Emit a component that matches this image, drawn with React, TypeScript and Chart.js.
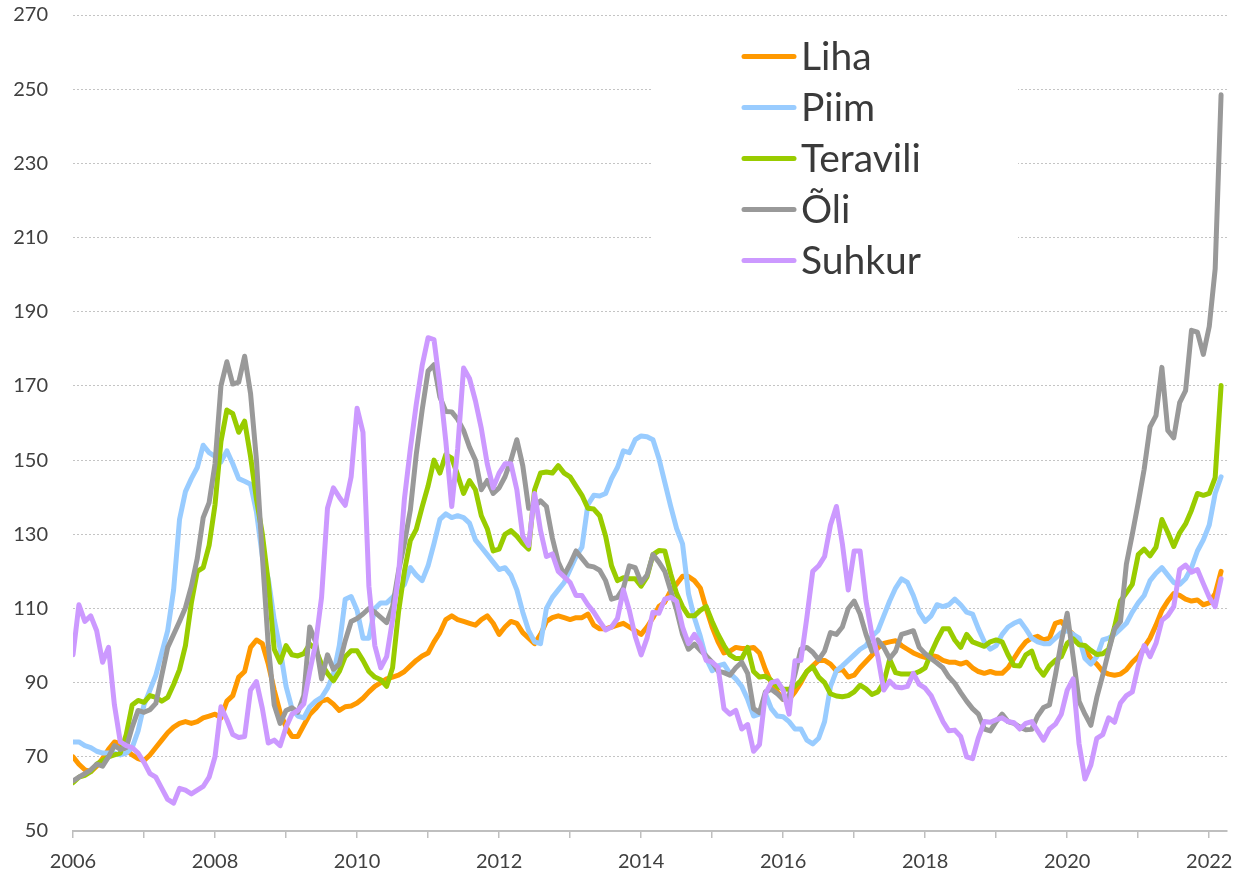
import React, { useEffect, useRef } from "react";
import { Chart, registerables } from "chart.js";

Chart.register(...registerables);

// Monthly values, Jan 2006 .. Mar 2022
const START_YEAR = 2006;

const LIHA = [
  70, 68, 66.5, 66, 67.5, 69.5, 72, 74, 73.5, 72, 70.5, 69.5,
  69, 70.5, 72.5, 74.5, 76.5, 78, 79, 79.5, 79, 79.5, 80.5, 81,
  81.5, 80.5, 85, 86.5, 91.5, 93, 99.5, 101.5, 100.5, 95, 88, 82,
  78, 75.5, 75.5, 78.5, 81.4, 83, 85, 85.5, 84.2, 82.5, 83.5, 83.7,
  84.5, 85.8, 87.5, 89, 90, 91, 91.5, 92, 93, 94.5, 96, 97.2,
  98, 101, 103.5, 107, 108, 107, 106.5, 106, 105.5, 107, 108, 106,
  103, 105, 106.5, 106, 103.5, 102, 100.5, 103, 106.5, 107.5, 108, 107.5,
  107, 107.5, 107.5, 108.5, 105.5, 104.5, 104.5, 105, 105.5, 106, 105, 104,
  103, 105, 107.5, 110.5, 111.7, 114.8, 116.6, 118.7, 118.6, 117.5, 115.5, 110,
  105, 101, 98, 98.5, 99.5, 99.2, 99.2, 99.5, 98, 93.5, 90, 87.5,
  85.5, 85.5, 87.5, 90, 93, 94.5, 96, 96, 95, 93.2, 93.6, 91.5,
  92, 94, 95.7, 97.4, 99.3, 100.6, 101, 101.3, 100, 99, 98, 97.3,
  96.8, 97.3, 97, 96, 95.5, 95.5, 95, 95.5, 94, 93, 92.5, 93,
  92.5, 92.5, 94, 96.5, 99, 101, 102, 102.5, 101.5, 102, 106, 106.5,
  104.5, 103, 101, 99, 96.5, 95, 93, 92.3, 92, 92.3, 93.5, 95.5,
  97, 99.5, 102, 105.5, 109.5, 112, 114, 113.5, 112.5, 112, 112.3, 111,
  111.5, 114, 120,
];

const PIIM = [
  74, 74, 73, 72.5, 71.5, 71, 71, 71, 70.5, 71, 72.5, 77,
  84, 88, 92, 98, 104, 115, 134, 141.5, 145, 148, 154, 152,
  151, 149.5, 152.5, 149, 145, 144.3, 143.5, 136, 124, 118, 107, 99,
  89, 83, 81, 80.5, 83.5, 85, 86, 88.5, 92.2, 100, 112.5, 113.2,
  109.5, 102, 102, 110, 111.5, 111.5, 113, 115, 116.5, 121, 119, 117.5,
  121.5, 127.5, 134, 135.5, 134.5, 135, 134.5, 133, 128.5, 126.5, 124.5, 122.5,
  120.5, 121, 119, 115, 109, 104, 101, 100.5, 110, 113, 115, 117,
  120.5, 124, 126.5, 138, 140.5, 140.3, 141, 145, 148, 152.5, 152, 155.5,
  156.5, 156.3, 155.5, 150.5, 144, 137.5, 131.5, 127.4, 114, 107.5, 102.5, 96.5,
  93.2, 94.5, 95, 92.5, 91, 89, 85.5, 81, 81.5, 87, 83, 81,
  80.8, 79.5, 77.5, 77.5, 74.5, 73.5, 75, 79.5, 89, 93.2, 94.5, 96,
  97.5, 99, 100, 102.5, 104, 108, 112, 115.5, 118, 117, 113.5, 109,
  106.5, 108, 111, 110.5, 111, 112.5, 111, 109, 108.5, 104.5, 101, 99,
  100, 103, 105, 106, 106.7, 104.5, 102, 101, 100.5, 100.5, 102, 103.5,
  104, 103, 102, 96.5, 95, 97, 101.5, 102, 103, 104.5, 106, 109,
  111.5, 113.5, 117.5, 119.5, 121, 119, 117, 116.5, 118, 121, 125.5, 128.5,
  132.5, 141, 145.5,
];

const TERAVILI = [
  63, 64.5, 65, 66, 68, 69, 70, 70.5, 71, 76, 84, 85.2,
  84.7, 86.5, 86, 85, 86, 89.5, 93.5, 100, 111.5, 120, 121, 127,
  138, 155, 163.5, 162.5, 157.5, 160.5, 151, 139.5, 130, 117, 99, 95.5,
  100, 97.5, 97.2, 97.8, 100.4, 99, 95, 92.5, 90.5, 93, 97, 98.6,
  98.6, 96, 93, 91.5, 90.8, 89, 94, 109, 120, 128.3, 131.3, 137.4,
  143, 150, 146.5, 151.5, 150.5, 146, 141, 144.5, 142, 135, 131.5, 125.5,
  126, 130, 131, 129.5, 127.5, 126, 142, 146.5, 146.8, 146.5, 148.5, 146.5,
  145.5, 143, 140.5, 137, 136.8, 135, 129.5, 121.5, 117.5, 118.3, 118, 118,
  116, 118.5, 124.5, 125.6, 125.5, 119.3, 114, 110.5, 108, 108, 109.5, 110.5,
  106.5, 103, 100, 97.5, 96.5, 96.5, 99.5, 93, 91.5, 91.7, 90.6, 89,
  88.3, 88.2, 89, 90.6, 93, 94.3, 91.5, 90, 87, 86.4, 86.2, 86.5,
  87.5, 89.3, 88.3, 86.8, 87.5, 90, 96.3, 92.7, 92.3, 92.3, 92.3, 93,
  94, 98, 101.5, 104.5, 104.5, 101.5, 99.5, 103, 101, 100.4, 99.8, 101,
  101.5, 101, 97.5, 94.6, 94.5, 97.5, 98.5, 94, 92, 94.5, 96, 97,
  100.6, 101.8, 100.2, 100, 98.7, 97.6, 97.8, 99, 105, 112, 114.2, 116.5,
  124.5, 126, 124.2, 126.5, 134, 130.5, 126.7, 130.4, 132.8, 136.5, 141, 140.5,
  141, 145.3, 170.1,
];

const OLI = [
  63.5, 64.5, 65.5, 66.5, 68, 67.5, 70, 73, 72, 72.5, 78, 82.5,
  82, 82.7, 84.4, 92, 99.5, 103, 106.5, 110.2, 116, 123.5, 134.5, 138.5,
  149, 170, 176.5, 170.5, 171, 178, 168, 150, 124, 100, 84, 79,
  82.5, 83.2, 82, 86.5, 105, 101, 91, 97.5, 93.6, 95, 101.3, 106.5,
  107.3, 108.5, 110, 109, 107.6, 106.2, 110.5, 120, 127.5, 136.5, 151.5, 163.5,
  174, 175.7, 167, 163.1, 163, 161, 158, 153.5, 150, 142, 144.5, 141,
  142.5, 145.5, 150, 155.5, 148.5, 137, 137.5, 139, 137.5, 129, 122.5, 119,
  122, 125.5, 123.5, 121.5, 121.2, 120.3, 117.5, 112.5, 113, 115.5, 121.5, 121,
  117, 119, 124.5, 122.5, 120, 114.8, 109.5, 103, 99, 100.4, 98.7, 97.2,
  95.5, 93.1, 92.7, 92, 94, 95.5, 92.5, 83, 81.9, 87.5, 88.2, 87,
  85.5, 86.5, 92.3, 99, 99.5, 98.2, 96.2, 98.5, 103.5, 103, 105, 110,
  112, 108.5, 103, 98.5, 101.5, 99.5, 96.5, 98.5, 103, 103.5, 104, 99.5,
  97.8, 96.5, 95.3, 94, 91.5, 89.8, 87.3, 85, 83, 81.5, 77.5, 77,
  79.5, 81.5, 79.5, 79, 78, 77.3, 77.4, 81, 83.3, 84, 92, 101,
  108.7, 97, 85, 81.5, 78.5, 86, 92, 98.5, 104.5, 106.5, 122, 130,
  138.5, 147.5, 159, 162, 175, 158, 156, 165.5, 168.7, 185, 184.5, 178.5,
  186, 201.5, 248.5,
];

const SUHKUR = [
  97.5, 111, 106.5, 108, 104, 95.5, 99.5, 84, 74, 73, 72.5, 71,
  68.5, 65.5, 64.5, 61.5, 58.5, 57.5, 61.5, 61, 60, 61, 62, 64.5,
  70, 83.5, 80, 76, 75.2, 75.5, 88, 90.3, 83, 73.7, 74.5, 73,
  78, 81.5, 82.5, 84.3, 93, 100.5, 113, 137, 142.5, 140, 137.8, 145.5,
  164, 157.5, 116, 100, 94, 97, 107, 119, 139.5, 153, 165, 175.5,
  183, 182.5, 170, 155, 137.5, 153, 174.8, 172, 166, 158.5, 149, 142.5,
  146.5, 149, 149, 142, 129.5, 127, 141, 131, 124, 124.7, 120, 118.5,
  117, 113.5, 113.5, 111, 109, 106.5, 104.2, 105, 107.3, 115, 109.5, 102.5,
  97.5, 102, 109, 108.7, 112.5, 113, 112, 105, 100.5, 103, 100.5, 96,
  95.5, 94.1, 83, 81.5, 82.5, 77.5, 78.7, 71.5, 73.3, 87, 90, 90.5,
  88, 81.5, 95.9, 96, 107.5, 120, 121.5, 124, 132.5, 137.5, 127.5, 115,
  125.5, 125.5, 112, 103, 97, 88, 90.4, 88.8, 88.6, 89, 92.5, 89.5,
  88.5, 86.5, 83, 79.5, 77, 77.2, 75.5, 70, 69.5, 75.2, 79.5, 79.3,
  80, 80.5, 79.5, 79.2, 77.5, 79, 79.5, 77, 74.5, 77.5, 78.8, 81.5,
  88, 91, 73.5, 64, 67.8, 75, 76, 80.5, 79.3, 84.5, 86.5, 87.5,
  94.5, 100, 97, 100.6, 106.8, 108.1, 110.5, 120.5, 121.7, 119.8, 120.5, 116.7,
  113, 110.5, 118,
];

const SERIES_NAMES = ["Liha", "Piim", "Teravili", "Õli", "Suhkur"];
const SERIES_VALUES = [LIHA, PIIM, TERAVILI, OLI, SUHKUR];
const SERIES_COLORS = ["#FF9900", "#99CCFF", "#99CC00", "#999999", "#CC99FF"];

const Y_MIN = 50;
const Y_MAX = 270;
const Y_STEP = 20;
const X_MAX_MONTH = 195; // axis end (Apr 2022)
const YEAR_TICKS = Array.from({ length: 17 }, (_, k) => k * 12); // 2006..2022

const FONT = "Lato, 'Open Sans', sans-serif";

const legendPlugin = {
  id: "boxLegend",
  afterDraw(chart: any) {
    const ctx = chart.ctx;
    ctx.save();
    ctx.fillStyle = "#ffffff";
    ctx.fillRect(651, 24, 367, 277);
    SERIES_NAMES.forEach((name, i) => {
      const y = 56.5 + i * 51;
      ctx.strokeStyle = SERIES_COLORS[i];
      ctx.lineWidth = 5;
      ctx.lineCap = "round";
      ctx.beginPath();
      ctx.moveTo(744, y);
      ctx.lineTo(794, y);
      ctx.stroke();
      ctx.fillStyle = "#3a3a3a";
      ctx.font = `39px ${FONT}`;
      ctx.textBaseline = "alphabetic";
      ctx.textAlign = "left";
      ctx.fillText(name, 801, y + 13.5);
    });
    ctx.restore();
  },
};

export default function App() {
  const canvasRef = useRef<HTMLCanvasElement | null>(null);

  useEffect(() => {
    if (!canvasRef.current) return;
    const datasets = SERIES_NAMES.map((name, i) => ({
      label: name,
      data: SERIES_VALUES[i].map((v, m) => ({ x: m, y: v })),
      borderColor: SERIES_COLORS[i],
      backgroundColor: SERIES_COLORS[i],
      borderWidth: 5,
      pointRadius: 0,
      tension: 0,
      fill: false,
      borderJoinStyle: "round" as const,
      borderCapStyle: "round" as const,
      order: SERIES_NAMES.length - i,
    }));

    const chart = new Chart(canvasRef.current, {
      type: "line",
      data: { datasets },
      options: {
        animation: false,
        responsive: true,
        maintainAspectRatio: false,
        devicePixelRatio: 1,
        layout: { padding: { left: 0, right: 14, top: 15, bottom: 0 } },
        plugins: {
          legend: { display: false },
          tooltip: { enabled: false },
        },
        scales: {
          x: {
            type: "linear",
            min: 0,
            max: X_MAX_MONTH,
            afterBuildTicks: (scale: any) => {
              scale.ticks = YEAR_TICKS.map((v) => ({ value: v }));
            },
            afterFit: (scale: any) => {
              scale.height = 42;
              scale.paddingLeft = 0;
              scale.paddingRight = 0;
            },
            ticks: {
              autoSkip: false,
              maxRotation: 0,
              padding: 12,
              color: "#404040",
              font: { family: FONT, size: 20 },
              callback: (v: any) => {
                const k = Math.round(Number(v) / 12);
                return k % 2 === 0 ? String(START_YEAR + k) : "";
              },
            },
            grid: {
              display: true,
              drawOnChartArea: false,
              drawTicks: true,
              tickLength: 7,
              tickColor: "#bfbfbf",
              lineWidth: 1.5,
            },
            border: { display: true, color: "#bfbfbf", width: 2 },
          },
          y: {
            min: Y_MIN,
            max: Y_MAX,
            afterFit: (scale: any) => {
              scale.width = 73;
              scale.paddingTop = 0;
              scale.paddingBottom = 0;
            },
            ticks: {
              stepSize: Y_STEP,
              padding: 25,
              color: "#404040",
              font: { family: FONT, size: 20 },
            },
            grid: {
              color: "#c4c4c4",
              lineWidth: 1,
              drawTicks: false,
            },
            border: { display: false, dash: [2, 2] },
          },
        },
      },
      plugins: [legendPlugin],
    });
    return () => chart.destroy();
  }, []);

  return (
    <div
      style={{
        position: "fixed",
        left: 0,
        top: 0,
        width: 1241,
        height: 873,
        background: "#ffffff",
      }}
    >
      <canvas ref={canvasRef} />
    </div>
  );
}
